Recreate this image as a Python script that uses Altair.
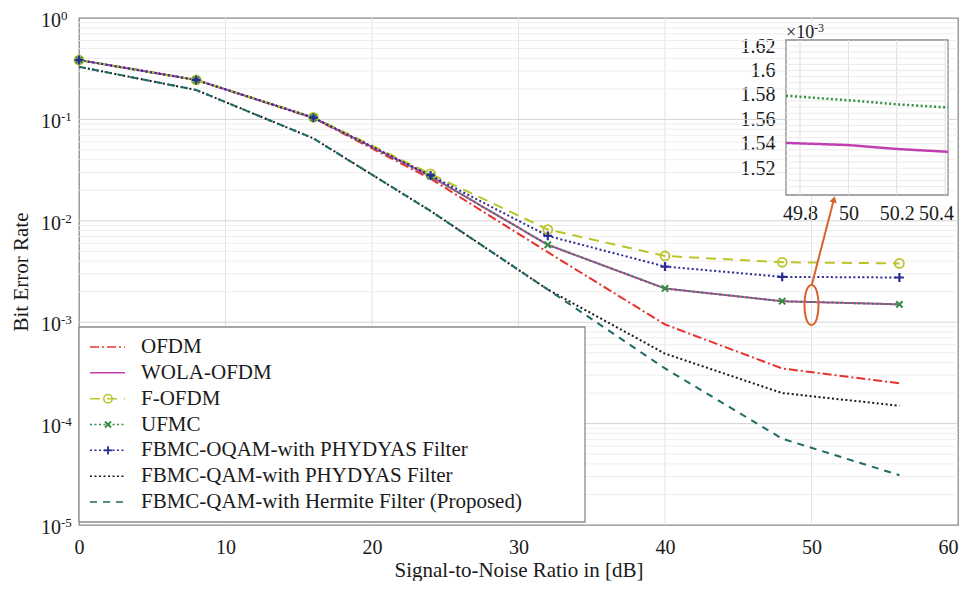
import altair as alt
import pandas as pd

SERIF = "Liberation Serif"
INK = "#1a1a1a"

# ---------------- data ----------------
snr = [0, 8, 16, 24, 32, 40, 48, 56]
series = ["OFDM", "WOLA-OFDM", "F-OFDM", "UFMC",
          "FBMC-OQAM-with PHYDYAS Filter", "FBMC-QAM-with PHYDYAS Filter",
          "FBMC-QAM-with Hermite Filter (Proposed)"]
ber_ofdm = [0.385, 0.245, 0.103, 0.026, 0.0049, 0.00095, 0.00035, 0.00025]
ber_wola = [0.385, 0.245, 0.104, 0.0275, 0.0058, 0.00215, 0.00161, 0.0015]
ber_fofdm = [0.385, 0.245, 0.105, 0.029, 0.0082, 0.0045, 0.0039, 0.0038]
ber_ufmc = [0.385, 0.245, 0.104, 0.0275, 0.0058, 0.00215, 0.00161, 0.0015]
ber_oqam = [0.385, 0.245, 0.104, 0.028, 0.0071, 0.00354, 0.0028, 0.00276]
ber_qam = [0.33, 0.195, 0.065, 0.0125, 0.0021, 0.00049, 0.0002, 0.00015]
ber_hermite = [0.33, 0.195, 0.065, 0.0125, 0.0021, 0.00035, 7.1e-5, 3.1e-5]

# zoomed inset (BER in units of 1e-3)
inset_snr = [49.742, 50.0, 50.2, 50.412]
inset_wola = [1.5407, 1.5389, 1.5357, 1.5334]
inset_ufmc = [1.5793, 1.5756, 1.5723, 1.5697]

# tick labels
x_ticks = [0, 10, 20, 30, 40, 50, 60]
y_decades = [1, 0.1, 0.01, 0.001, 0.0001, 0.00001]
y_exponents = ["0", "-1", "-2", "-3", "-4", "-5"]
y_minors = [m * 10.0 ** e for e in range(-5, 0) for m in range(2, 10)]
inset_x_ticks = [49.8, 50.0, 50.2, 50.4]
inset_y_ticks = [1.52, 1.54, 1.56, 1.58, 1.60, 1.62]
inset_y_minor = [1.50 + 0.005 * i for i in range(1, 25)]
inset_x_dom = [49.742, 50.412]
inset_y_dom = [1.498, 1.625]

# annotation (ellipse + arrow)
ellipse_at = [50.0, 1.48e-3]
arrow_from = [50.0, 2.28e-3]
arrow_to = [51.53, 0.0163]

# ---------------- styles ----------------
colors = ["#e5322d", "#c23fb3", "#bcc42a", "#2f8f3f", "#2b2b96", "#1a1a1a", "#1f6b66"]
dashes = [[9, 3, 2, 3], [1, 0], [10, 7], [2, 2.5], [2, 2.5], [2, 2.5], [7, 6]]

all_ber = [ber_ofdm, ber_wola, ber_fofdm, ber_ufmc, ber_oqam, ber_qam, ber_hermite]
df = pd.DataFrame([
    {"series": s, "snr": x, "ber": b, "order": i}
    for i, (s, vals) in enumerate(zip(series, all_ber))
    for x, b in zip(snr, vals)
])

H = 507  # plot height

color = alt.Color("series:N", scale=alt.Scale(domain=series, range=colors), legend=None)
dash = alt.StrokeDash("series:N", scale=alt.Scale(domain=series, range=dashes), legend=None)

X = alt.X("snr:Q", scale=alt.Scale(domain=[0, 60], nice=False, zero=False),
          axis=alt.Axis(orient="bottom", values=x_ticks, title="Signal-to-Noise Ratio in [dB]",
                        grid=False, domain=False, ticks=False, tickSize=0, labelPadding=12,
                        labelFontSize=20, titleFontSize=21, titleY=45, titleBaseline="middle",
                        labelFlush=False, labelBound=False,
                        labelOffset={"condition": {"test": "datum.value == 60", "value": -10}, "value": 0}))
Y = alt.Y("ber:Q", scale=alt.Scale(type="log", domain=[1e-5, 1], nice=False),
          axis=alt.Axis(orient="left", title="Bit Error Rate", labels=False, ticks=False,
                        domain=False, grid=False, titleFontSize=21, titleX=-58, titleY=H / 2,
                        titleAngle=270, titleAlign="center", titleBaseline="middle"))

# grid
vgrid = alt.Chart(pd.DataFrame({"snr": x_ticks[1:-1]})).mark_rule(
    color="#e2e2e2", strokeWidth=1).encode(x=X)
hminor = alt.Chart(pd.DataFrame({"ber": y_minors})).mark_rule(
    color="#eeeeee", strokeWidth=1).encode(y=Y)
hmajor = alt.Chart(pd.DataFrame({"ber": y_decades[1:-1]})).mark_rule(
    color="#d4d4d4", strokeWidth=1).encode(y=Y)

lines = alt.Chart(df).mark_line(strokeWidth=2).encode(
    x=X, y=Y, color=color, strokeDash=dash, order="snr:Q")

circ = alt.Chart(df).transform_filter(alt.datum.series == "F-OFDM").mark_point(
    shape="circle", filled=False, size=80, strokeWidth=1.8, opacity=1).encode(x=X, y=Y, color=color)
xmark = alt.Chart(df).transform_filter(alt.datum.series == "UFMC").mark_point(
    shape="M-1,-1L1,1M-1,1L1,-1", filled=False, size=40, strokeWidth=2, opacity=1).encode(x=X, y=Y, color=color)
pmark = alt.Chart(df).transform_filter(alt.datum.series == "FBMC-OQAM-with PHYDYAS Filter").mark_point(
    shape="M-1,0L1,0M0,-1L0,1", filled=False, size=80, strokeWidth=2.2, opacity=1).encode(x=X, y=Y, color=color)

ylab_df = pd.DataFrame({"ber": y_decades, "exp": y_exponents})
ylab_base = alt.Chart(ylab_df).mark_text(
    align="right", baseline="middle", fontSize=20, font=SERIF, color=INK, dy=3
).encode(x=alt.value(-18), y=Y, text=alt.value("10"))
ylab_exp = alt.Chart(ylab_df).mark_text(
    align="left", baseline="middle", fontSize=13, font=SERIF, color=INK, dy=-2
).encode(x=alt.value(-18), y=Y, text="exp:N")

ORANGE = "#d9622b"
ell = alt.Chart(pd.DataFrame({"snr": [ellipse_at[0]], "ber": [ellipse_at[1]]})).mark_point(
    shape="M0,-1C0.47,-1 0.47,1 0,1C-0.47,1 -0.47,-1 0,-1Z", size=1600, filled=False,
    color=ORANGE, strokeWidth=2, opacity=1).encode(x=X, y=Y)
arrow_df = pd.DataFrame({"snr": [arrow_from[0]], "ber": [arrow_from[1]],
                         "snr2": [arrow_to[0]], "ber2": [arrow_to[1]]})
arrow = alt.Chart(arrow_df).mark_rule(color=ORANGE, strokeWidth=2).encode(
    x=X, y=Y, x2="snr2:Q", y2="ber2:Q")
head = alt.Chart(pd.DataFrame({"snr": [arrow_to[0]], "ber": [arrow_to[1]]})).mark_point(
    shape="triangle-up", filled=True, size=55, angle=15, color=ORANGE, opacity=1).encode(x=X, y=Y)

main = alt.layer(vgrid, hminor, hmajor, lines, circ, xmark, pmark,
                 ylab_base, ylab_exp, ell, arrow, head)

# ---------------- inset ----------------
XI = alt.X("ix:Q", scale=alt.Scale(domain=inset_x_dom, range=[707, 869], nice=False, zero=False),
           axis=alt.Axis(orient="bottom", offset=-(H - 177), values=inset_x_ticks, format=".1~f",
                         grid=False, domain=False, ticks=False, tickSize=0, labelPadding=8,
                         title=None, labelFontSize=20, labelOverlap=False, labelBound=False,
                         labelOffset={"condition": {"test": "datum.value > 50.3", "value": -9}, "value": 0}))
YI = alt.Y("iy:Q", scale=alt.Scale(domain=inset_y_dom, range=[177, 22], nice=False, zero=False),
           axis=alt.Axis(orient="left", offset=-707, values=inset_y_ticks, format=".2~f",
                         grid=False, domain=False, ticks=False, tickSize=0, labelPadding=11,
                         title=None, labelFontSize=20, labelOverlap=False, labelBound=False))

bg = alt.Chart(pd.DataFrame({"ix": [inset_x_dom[0]], "ix2": [inset_x_dom[1]],
                             "iy": [inset_y_dom[0]], "iy2": [inset_y_dom[1]]})).mark_rect(
    fill="white", stroke="#8a8a8a", strokeWidth=1.3).encode(x=XI, x2="ix2:Q", y=YI, y2="iy2:Q")
ivgrid = alt.Chart(pd.DataFrame({"ix": inset_x_ticks, "iy": inset_y_dom[0], "iy2": inset_y_dom[1]})).mark_rule(
    color="#dedede", strokeWidth=1).encode(x=XI, y=YI, y2="iy2:Q")
ihgrid = alt.Chart(pd.DataFrame({"iy": inset_y_minor, "ix": inset_x_dom[0], "ix2": inset_x_dom[1]})).mark_rule(
    color="#ebebeb", strokeWidth=1).encode(y=YI, x=XI, x2="ix2:Q")
idf = pd.DataFrame(
    [{"series": "WOLA-OFDM", "ix": x, "iy": v} for x, v in zip(inset_snr, inset_wola)]
    + [{"series": "UFMC", "ix": x, "iy": v} for x, v in zip(inset_snr, inset_ufmc)])
ilines = alt.Chart(idf).mark_line(strokeWidth=2.5).encode(
    x=XI, y=YI, color=color, strokeDash=dash, order="ix:Q")
one = pd.DataFrame({"k": [0]})
iscale1 = alt.Chart(one).mark_text(align="left", baseline="middle", fontSize=18, font=SERIF,
                                   color=INK).encode(x=alt.value(707), y=alt.value(15), text=alt.value("×10"))
iscale2 = alt.Chart(one).mark_text(align="left", baseline="middle", fontSize=12, font=SERIF,
                                   color=INK).encode(x=alt.value(735), y=alt.value(10), text=alt.value("-3"))
inset = alt.layer(bg, ivgrid, ihgrid, ilines, iscale1, iscale2)

# ---------------- legend ----------------
YL = alt.Y("series:N", scale=alt.Scale(type="point", domain=series, range=[329, 484], padding=0), axis=None)
ldf = pd.DataFrame({"series": series})
lbox = alt.Chart(one).mark_rect(fill="white", stroke="#8a8a8a", strokeWidth=1.3).encode(
    x=alt.value(0), x2=alt.value(506), y=alt.value(309), y2=alt.value(504))
lrule = alt.Chart(ldf).mark_rule(strokeWidth=1.5).encode(
    x=alt.value(11), x2=alt.value(46), y=YL, color=color, strokeDash=dash)
lcirc = alt.Chart(ldf).transform_filter(alt.datum.series == "F-OFDM").mark_point(
    shape="circle", filled=False, size=70, strokeWidth=1.6, opacity=1).encode(x=alt.value(29), y=YL, color=color)
lx = alt.Chart(ldf).transform_filter(alt.datum.series == "UFMC").mark_point(
    shape="M-1,-1L1,1M-1,1L1,-1", filled=False, size=36, strokeWidth=1.8, opacity=1).encode(x=alt.value(29), y=YL, color=color)
lp = alt.Chart(ldf).transform_filter(alt.datum.series == "FBMC-OQAM-with PHYDYAS Filter").mark_point(
    shape="M-1,0L1,0M0,-1L0,1", filled=False, size=70, strokeWidth=1.8, opacity=1).encode(x=alt.value(29), y=YL, color=color)
ltext = alt.Chart(ldf).mark_text(align="left", baseline="middle", fontSize=21, font=SERIF, color=INK).encode(
    x=alt.value(62), y=YL, text="series:N")
legend = alt.layer(lbox, lrule, lcirc, lx, lp, ltext)

chart = alt.layer(main, inset, legend).resolve_scale(
    x="independent", y="independent"
).properties(
    width=879, height=H,
    autosize=alt.AutoSizeParams(type="none"),
    padding={"left": 71, "top": 10, "right": 1, "bottom": 56},
).configure_view(
    stroke="#8a8a8a", strokeWidth=1.3
).configure_axis(
    labelFont=SERIF, titleFont=SERIF, labelColor=INK, titleColor=INK, titleFontWeight="normal"
)

chart.save("out.html", embed_options={"renderer": "svg", "actions": False})
